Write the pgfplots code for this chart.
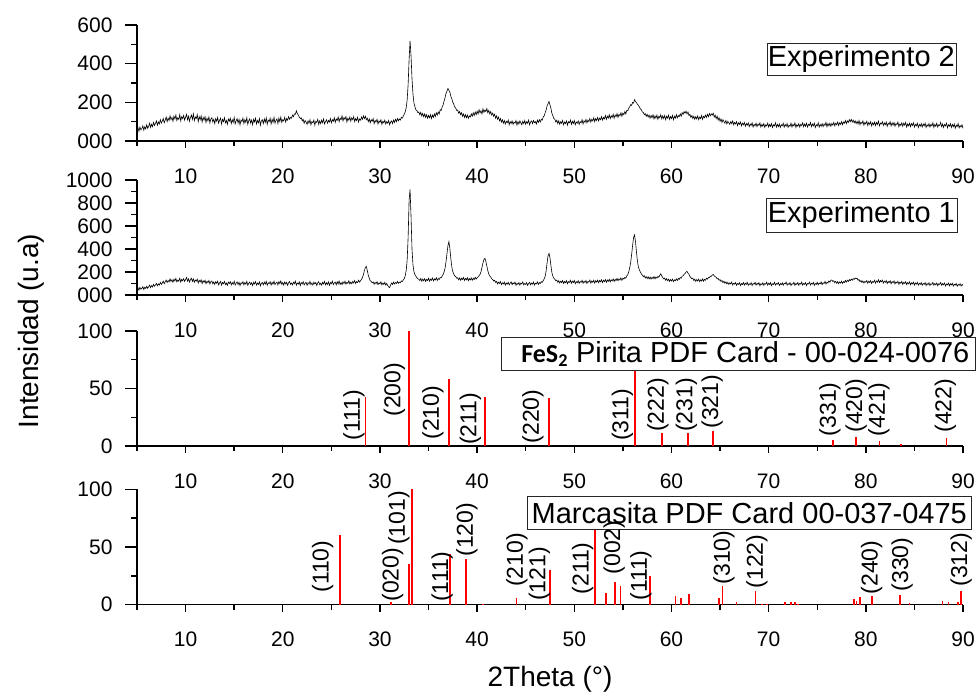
\documentclass[border=0pt]{standalone}
\usepackage{fontspec}
\setmainfont{Liberation Sans}
\newfontfamily\calib{Carlito}
\usepackage{pgfplots}
\pgfplotsset{compat=1.18}
\definecolor{stick}{RGB}{255,0,0}
\newcommand\tickfont{\fontsize{21}{21}\selectfont}
\newcommand\hklfont{\fontsize{23}{23}\selectfont}
\newcommand\boxfont{\fontsize{29}{29}\selectfont}
\newcommand\labfont{\fontsize{28}{28}\selectfont}
\pgfplotsset{
  panel/.style={
    scale only axis, width=826pt, xmin=5, xmax=90,
    axis x line=bottom, axis y line=left,
    axis line style={-, line width=1.4pt, black},
    tick align=outside, clip=false,
    xtick={10,20,30,40,50,60,70,80,90},
    xticklabels={10,20,30,40,50,60,70,80,90},
    minor xtick={5,15,25,35,45,55,65,75,85},
    xtick style={line width=1.4pt, black, /pgfplots/major tick length=7pt, /pgfplots/minor tick length=5pt},
    ytick style={line width=1.4pt, black, /pgfplots/major tick length=12pt, /pgfplots/minor tick length=6pt},
    xticklabel style={font=\tickfont, inner sep=0pt, anchor=north, yshift=-23pt},
    yticklabel style={font=\tickfont, inner sep=0pt, anchor=east, xshift=-20pt},
    /pgf/number format/assume math mode=true,
  },
}
\tikzset{
  hkl/.style={rotate=90, inner sep=0pt, font=\hklfont, anchor=center},
  lbox/.style={draw=black!85, line width=0.6pt, fill=white, inner sep=0pt, font=\boxfont},
}
\pgfplotstableread{
x y
5.0 54
5.1 68
5.2 50
5.3 72
5.4 58
5.5 64
5.6 78
5.7 56
5.8 74
5.9 62
6.0 84
6.1 66
6.2 76
6.3 92
6.4 70
6.5 86
6.6 74
6.7 96
6.8 80
6.9 90
7.0 104
7.1 82
7.2 98
7.3 88
7.4 110
7.5 92
7.6 102
7.7 116
7.8 94
7.9 108
8.0 124
8.1 100
8.2 118
8.3 106
8.4 130
8.5 110
8.6 122
8.7 102
8.8 128
8.9 114
9.0 134
9.1 106
9.2 120
9.3 112
9.4 136
9.5 104
9.6 126
9.7 116
9.8 132
9.9 108
10.0 124
10.1 138
10.2 110
10.3 128
10.4 102
10.5 122
10.6 134
10.7 112
10.8 140
10.9 106
11.0 124
11.1 116
11.2 136
11.3 100
11.4 126
11.5 110
11.6 130
11.7 98
11.8 122
11.9 108
12.0 126
12.1 96
12.2 118
12.3 104
12.4 124
12.5 94
12.6 114
12.7 120
12.8 98
12.9 112
13.0 90
13.1 116
13.2 102
13.3 122
13.4 92
13.5 108
13.6 118
13.7 88
13.8 112
13.9 100
14.0 120
14.1 94
14.2 106
14.3 86
14.4 114
14.5 102
14.6 118
14.7 90
14.8 110
14.9 96
15.0 122
15.1 88
15.2 104
15.3 116
15.4 92
15.5 112
15.6 84
15.7 108
15.8 100
15.9 118
16.0 90
16.1 110
16.2 96
16.3 120
16.4 86
16.5 104
16.6 114
16.7 92
16.8 108
16.9 84
17.0 112
17.1 98
17.2 118
17.3 88
17.4 106
17.5 94
17.6 116
17.7 82
17.8 104
17.9 110
18.0 90
18.1 114
18.2 96
18.3 120
18.4 86
18.5 108
18.6 100
18.7 118
18.8 88
18.9 112
19.0 96
19.1 122
19.2 92
19.3 106
19.4 114
19.5 90
19.6 118
19.7 100
19.8 124
19.9 96
20.0 110
20.1 104
20.2 122
20.3 98
20.4 116
20.5 108
20.6 126
20.7 112
20.8 122
20.9 118
21.0 134
21.1 126
21.2 140
21.3 138
21.4 156
21.5 142
21.6 134
21.7 124
21.8 116
21.9 120
22.0 104
22.1 112
22.2 92
22.3 106
22.4 98
22.5 86
22.6 104
22.7 92
22.8 110
22.9 84
23.0 100
23.1 94
23.2 108
23.3 82
23.4 102
23.5 96
23.6 112
23.7 86
23.8 104
23.9 90
24.0 108
24.1 94
24.2 114
24.3 88
24.4 100
24.5 110
24.6 92
24.7 106
24.8 98
24.9 116
25.0 94
25.1 110
25.2 102
25.3 120
25.4 96
25.5 114
25.6 106
25.7 124
25.8 100
25.9 118
26.0 110
26.1 130
26.2 104
26.3 122
26.4 112
26.5 126
26.6 98
26.7 118
26.8 108
26.9 124
27.0 102
27.1 120
27.2 110
27.3 126
27.4 100
27.5 116
27.6 106
27.7 122
27.8 98
27.9 114
28.0 108
28.1 124
28.2 112
28.3 130
28.4 116
28.5 128
28.6 110
28.7 118
28.8 100
28.9 114
29.0 94
29.1 110
29.2 102
29.3 116
29.4 90
29.5 106
29.6 98
29.7 112
29.8 88
29.9 104
30.0 96
30.1 110
30.2 86
30.3 102
30.4 94
30.5 108
30.6 88
30.7 100
30.8 92
30.9 106
31.0 84
31.1 98
31.2 104
31.3 90
31.4 108
31.5 96
31.6 112
31.7 100
31.8 116
31.9 104
32.0 114
32.1 108
32.2 122
32.3 118
32.4 128
32.5 138
32.6 150
32.7 172
32.8 212
32.9 292
33.0 420
33.1 518
33.2 440
33.3 322
33.4 242
33.5 196
33.6 178
33.7 160
33.8 158
33.9 146
34.0 150
34.1 136
34.2 148
34.3 130
34.4 142
34.5 126
34.6 140
34.7 122
34.8 136
34.9 118
35.0 132
35.1 120
35.2 136
35.3 116
35.4 134
35.5 122
35.6 140
35.7 126
35.8 146
35.9 134
36.0 150
36.1 140
36.2 162
36.3 158
36.4 176
36.5 186
36.6 206
36.7 224
36.8 246
36.9 258
37.0 272
37.1 262
37.2 252
37.3 230
37.4 218
37.5 200
37.6 190
37.7 176
37.8 170
37.9 158
38.0 160
38.1 144
38.2 152
38.3 136
38.4 146
38.5 128
38.6 140
38.7 122
38.8 136
38.9 120
39.0 134
39.1 118
39.2 130
39.3 124
39.4 140
39.5 128
39.6 146
39.7 132
39.8 150
39.9 136
40.0 154
40.1 140
40.2 162
40.3 146
40.4 156
40.5 140
40.6 166
40.7 148
40.8 160
40.9 152
41.0 168
41.1 146
41.2 158
41.3 140
41.4 152
41.5 134
41.6 144
41.7 128
41.8 138
41.9 118
42.0 130
42.1 112
42.2 124
42.3 104
42.4 116
42.5 98
42.6 110
42.7 92
42.8 106
42.9 88
43.0 102
43.1 94
43.2 108
43.3 84
43.4 100
43.5 90
43.6 104
43.7 86
43.8 98
43.9 92
44.0 106
44.1 82
44.2 100
44.3 88
44.4 104
44.5 94
44.6 84
44.7 102
44.8 90
44.9 106
45.0 86
45.1 100
45.2 92
45.3 108
45.4 84
45.5 98
45.6 104
45.7 90
45.8 106
45.9 94
46.0 100
46.1 88
46.2 108
46.3 96
46.4 110
46.5 98
46.6 112
46.7 108
46.8 124
46.9 130
47.0 146
47.1 160
47.2 182
47.3 192
47.4 204
47.5 186
47.6 168
47.7 142
47.8 130
47.9 116
48.0 112
48.1 98
48.2 108
48.3 90
48.4 104
48.5 86
48.6 100
48.7 92
48.8 106
48.9 84
49.0 98
49.1 90
49.2 104
49.3 82
49.4 100
49.5 94
49.6 108
49.7 86
49.8 102
49.9 90
50.0 106
50.1 84
50.2 98
50.3 92
50.4 104
50.5 86
50.6 100
50.7 94
50.8 110
50.9 88
51.0 104
51.1 96
51.2 112
51.3 94
51.4 108
51.5 100
51.6 116
51.7 98
51.8 112
51.9 104
52.0 120
52.1 100
52.2 116
52.3 106
52.4 122
52.5 104
52.6 118
52.7 110
52.8 126
52.9 108
53.0 122
53.1 114
53.2 132
53.3 112
53.4 128
53.5 118
53.6 136
53.7 116
53.8 130
53.9 122
54.0 138
54.1 118
54.2 134
54.3 126
54.4 142
54.5 122
54.6 138
54.7 130
54.8 146
54.9 128
55.0 144
55.1 136
55.2 152
55.3 140
55.4 158
55.5 156
55.6 170
55.7 176
55.8 188
55.9 184
56.0 200
56.1 196
56.2 214
56.3 204
56.4 198
56.5 190
56.6 184
56.7 176
56.8 166
56.9 162
57.0 150
57.1 148
57.2 136
57.3 142
57.4 128
57.5 138
57.6 124
57.7 134
57.8 118
57.9 132
58.0 120
58.1 136
58.2 114
58.3 130
58.4 118
58.5 134
58.6 112
58.7 128
58.8 120
58.9 136
59.0 114
59.1 130
59.2 116
59.3 132
59.4 110
59.5 128
59.6 118
59.7 134
59.8 112
59.9 126
60.0 116
60.1 132
60.2 110
60.3 128
60.4 118
60.5 136
60.6 120
60.7 132
60.8 126
60.9 140
61.0 128
61.1 146
61.2 138
61.3 152
61.4 144
61.5 154
61.6 140
61.7 150
61.8 132
61.9 138
62.0 122
62.1 132
62.2 116
62.3 128
62.4 112
62.5 126
62.6 114
62.7 130
62.8 110
62.9 124
63.0 116
63.1 132
63.2 112
63.3 128
63.4 120
63.5 134
63.6 122
63.7 138
63.8 126
63.9 142
64.0 130
64.1 140
64.2 134
64.3 144
64.4 124
64.5 134
64.6 116
64.7 128
64.8 108
64.9 120
65.0 102
65.1 114
65.2 96
65.3 110
65.4 100
65.5 92
65.6 106
65.7 88
65.8 102
65.9 94
66.0 86
66.1 100
66.2 90
66.3 104
66.4 84
66.5 96
66.6 88
66.7 100
66.8 80
66.9 94
67.0 86
67.1 98
67.2 78
67.3 92
67.4 84
67.5 96
67.6 76
67.7 90
67.8 82
67.9 94
68.0 74
68.1 88
68.2 80
68.3 94
68.4 72
68.5 86
68.6 78
68.7 92
68.8 74
68.9 88
69.0 80
69.1 94
69.2 72
69.3 86
69.4 76
69.5 90
69.6 70
69.7 84
69.8 78
69.9 92
70.0 72
70.1 86
70.2 76
70.3 90
70.4 70
70.5 84
70.6 78
70.7 94
70.8 72
70.9 86
71.0 74
71.1 88
71.2 70
71.3 84
71.4 78
71.5 92
71.6 72
71.7 86
71.8 76
71.9 90
72.0 70
72.1 82
72.2 76
72.3 92
72.4 72
72.5 86
72.6 78
72.7 94
72.8 70
72.9 84
73.0 76
73.1 90
73.2 72
73.3 86
73.4 80
73.5 94
73.6 74
73.7 88
73.8 76
73.9 92
74.0 72
74.1 86
74.2 80
74.3 96
74.4 74
74.5 88
74.6 78
74.7 92
74.8 70
74.9 84
75.0 78
75.1 94
75.2 72
75.3 86
75.4 76
75.5 90
75.6 74
75.7 88
75.8 80
75.9 96
76.0 74
76.1 90
76.2 78
76.3 92
76.4 76
76.5 90
76.6 82
76.7 96
76.8 78
76.9 92
77.0 84
77.1 98
77.2 80
77.3 94
77.4 86
77.5 100
77.6 84
77.7 98
77.8 92
77.9 106
78.0 90
78.1 104
78.2 96
78.3 110
78.4 100
78.5 112
78.6 98
78.7 108
78.8 94
78.9 104
79.0 90
79.1 102
79.2 88
79.3 106
79.4 84
79.5 98
79.6 90
79.7 104
79.8 82
79.9 96
80.0 88
80.1 102
80.2 80
80.3 96
80.4 86
80.5 100
80.6 78
80.7 94
80.8 84
80.9 98
81.0 80
81.1 96
81.2 86
81.3 102
81.4 78
81.5 92
81.6 88
81.7 100
81.8 80
81.9 94
82.0 84
82.1 98
82.2 76
82.3 92
82.4 86
82.5 100
82.6 78
82.7 94
82.8 82
82.9 96
83.0 76
83.1 90
83.2 84
83.3 98
83.4 74
83.5 88
83.6 80
83.7 94
83.8 76
83.9 92
84.0 82
84.1 96
84.2 72
84.3 88
84.4 78
84.5 92
84.6 74
84.7 90
84.8 80
84.9 94
85.0 72
85.1 86
85.2 78
85.3 92
85.4 70
85.5 86
85.6 76
85.7 90
85.8 72
85.9 88
86.0 78
86.1 92
86.2 70
86.3 84
86.4 76
86.5 90
86.6 72
86.7 86
86.8 78
86.9 94
87.0 70
87.1 86
87.2 76
87.3 92
87.4 72
87.5 84
87.6 80
87.7 96
87.8 74
87.9 88
88.0 70
88.1 86
88.2 78
88.3 92
88.4 68
88.5 84
88.6 76
88.7 90
88.8 70
88.9 86
89.0 74
89.1 88
89.2 66
89.3 82
89.4 74
89.5 90
89.6 68
89.7 80
89.8 72
89.9 84
90.0 66
}\expB
\pgfplotstableread{
x y
5.0 46
5.1 62
5.2 42
5.3 66
5.4 50
5.5 58
5.6 72
5.7 48
5.8 68
5.9 56
6.0 76
6.1 58
6.2 72
6.3 86
6.4 64
6.5 82
6.6 70
6.7 92
6.8 76
6.9 88
7.0 100
7.1 80
7.2 96
7.3 86
7.4 110
7.5 92
7.6 104
7.7 120
7.8 98
7.9 114
8.0 130
8.1 108
8.2 126
8.3 114
8.4 140
8.5 118
8.6 132
8.7 110
8.8 138
8.9 122
9.0 144
9.1 114
9.2 130
9.3 120
9.4 146
9.5 112
9.6 136
9.7 124
9.8 142
9.9 118
10.0 134
10.1 152
10.2 120
10.3 140
10.4 112
10.5 134
10.6 146
10.7 118
10.8 140
10.9 110
11.0 130
11.1 120
11.2 138
11.3 104
11.4 128
11.5 114
11.6 132
11.7 100
11.8 124
11.9 110
12.0 128
12.1 98
12.2 120
12.3 106
12.4 126
12.5 96
12.6 116
12.7 122
12.8 98
12.9 114
13.0 92
13.1 116
13.2 102
13.3 120
13.4 88
13.5 106
13.6 118
13.7 86
13.8 110
13.9 98
14.0 118
14.1 90
14.2 104
14.3 84
14.4 112
14.5 100
14.6 116
14.7 88
14.8 108
14.9 94
15.0 120
15.1 86
15.2 102
15.3 114
15.4 90
15.5 110
15.6 82
15.7 106
15.8 98
15.9 116
16.0 88
16.1 108
16.2 94
16.3 118
16.4 84
16.5 102
16.6 112
16.7 90
16.8 106
16.9 82
17.0 110
17.1 96
17.2 116
17.3 86
17.4 104
17.5 92
17.6 114
17.7 80
17.8 102
17.9 108
18.0 88
18.1 112
18.2 94
18.3 118
18.4 84
18.5 106
18.6 98
18.7 116
18.8 86
18.9 110
19.0 94
19.1 120
19.2 90
19.3 104
19.4 112
19.5 88
19.6 116
19.7 98
19.8 122
19.9 92
20.0 108
20.1 86
20.2 114
20.3 96
20.4 110
20.5 84
20.6 106
20.7 118
20.8 92
20.9 104
21.0 88
21.1 112
21.2 98
21.3 120
21.4 86
21.5 104
21.6 94
21.7 114
21.8 82
21.9 108
22.0 96
22.1 116
22.2 88
22.3 102
22.4 110
22.5 84
22.6 106
22.7 94
22.8 118
22.9 90
23.0 104
23.1 86
23.2 112
23.3 96
23.4 108
23.5 82
23.6 104
23.7 116
23.8 90
23.9 102
24.0 86
24.1 110
24.2 96
24.3 118
24.4 88
24.5 106
24.6 92
24.7 114
24.8 84
24.9 108
25.0 98
25.1 120
25.2 90
25.3 104
25.4 112
25.5 88
25.6 116
25.7 96
25.8 122
25.9 92
26.0 108
26.1 90
26.2 114
26.3 100
26.4 120
26.5 94
26.6 110
26.7 102
26.8 124
26.9 96
27.0 112
27.1 98
27.2 118
27.3 104
27.4 126
27.5 100
27.6 116
27.7 108
27.8 128
27.9 112
28.0 124
28.1 136
28.2 152
28.3 176
28.4 212
28.5 238
28.6 248
28.7 212
28.8 172
28.9 146
29.0 124
29.1 118
29.2 106
29.3 114
29.4 94
29.5 110
29.6 98
29.7 116
29.8 90
29.9 106
30.0 96
30.1 114
30.2 88
30.3 104
30.4 92
30.5 110
30.6 86
30.7 100
30.8 82
30.9 70
31.0 64
31.1 88
31.2 104
31.3 92
31.4 112
31.5 96
31.6 108
31.7 100
31.8 118
31.9 102
32.0 112
32.1 106
32.2 122
32.3 116
32.4 130
32.5 142
32.6 166
32.7 212
32.8 302
32.9 500
33.0 820
33.1 919
33.2 680
33.3 400
33.4 262
33.5 202
33.6 176
33.7 164
33.8 150
33.9 142
34.0 136
34.1 126
34.2 144
34.3 120
34.4 138
34.5 124
34.6 142
34.7 118
34.8 136
34.9 126
35.0 146
35.1 120
35.2 138
35.3 128
35.4 148
35.5 122
35.6 140
35.7 130
35.8 150
35.9 126
36.0 144
36.1 134
36.2 152
36.3 150
36.4 164
36.5 178
36.6 200
36.7 232
36.8 290
36.9 362
37.0 430
37.1 464
37.2 402
37.3 312
37.4 242
37.5 202
37.6 182
37.7 166
37.8 160
37.9 146
38.0 150
38.1 132
38.2 148
38.3 128
38.4 146
38.5 134
38.6 152
38.7 126
38.8 144
38.9 132
39.0 150
39.1 124
39.2 142
39.3 130
39.4 148
39.5 128
39.6 146
39.7 134
39.8 154
39.9 138
40.0 150
40.1 156
40.2 168
40.3 180
40.4 202
40.5 240
40.6 278
40.7 308
40.8 319
40.9 292
41.0 252
41.1 212
41.2 182
41.3 166
41.4 156
41.5 142
41.6 134
41.7 122
41.8 128
41.9 110
42.0 118
42.1 96
42.2 112
42.3 100
42.4 116
42.5 90
42.6 106
42.7 96
42.8 112
42.9 86
43.0 104
43.1 94
43.2 110
43.3 88
43.4 102
43.5 114
43.6 90
43.7 106
43.8 96
43.9 112
44.0 84
44.1 102
44.2 92
44.3 108
44.4 86
44.5 104
44.6 96
44.7 114
44.8 88
44.9 100
45.0 92
45.1 108
45.2 84
45.3 100
45.4 110
45.5 88
45.6 104
45.7 94
45.8 112
45.9 86
46.0 102
46.1 96
46.2 114
46.3 92
46.4 108
46.5 100
46.6 116
46.7 110
46.8 124
46.9 140
47.0 162
47.1 210
47.2 280
47.3 340
47.4 362
47.5 322
47.6 252
47.7 192
47.8 162
47.9 146
48.0 136
48.1 124
48.2 130
48.3 110
48.4 124
48.5 104
48.6 120
48.7 108
48.8 126
48.9 100
49.0 118
49.1 106
49.2 124
49.3 98
49.4 116
49.5 110
49.6 128
49.7 102
49.8 120
49.9 108
50.0 126
50.1 98
50.2 116
50.3 106
50.4 124
50.5 100
50.6 118
50.7 110
50.8 128
50.9 102
51.0 120
51.1 108
51.2 126
51.3 100
51.4 118
51.5 112
51.6 130
51.7 104
51.8 122
51.9 110
52.0 128
52.1 104
52.2 124
52.3 112
52.4 130
52.5 106
52.6 126
52.7 114
52.8 132
52.9 108
53.0 128
53.1 116
53.2 134
53.3 110
53.4 130
53.5 118
53.6 136
53.7 114
53.8 132
53.9 122
54.0 140
54.1 118
54.2 136
54.3 126
54.4 144
54.5 124
54.6 140
54.7 130
54.8 148
54.9 128
55.0 146
55.1 138
55.2 154
55.3 146
55.4 166
55.5 176
55.6 200
55.7 236
55.8 280
55.9 352
56.0 430
56.1 500
56.2 522
56.3 462
56.4 372
56.5 292
56.6 242
56.7 218
56.8 200
56.9 184
57.0 172
57.1 160
57.2 168
57.3 148
57.4 160
57.5 142
57.6 158
57.7 140
57.8 156
57.9 138
58.0 154
58.1 142
58.2 160
58.3 140
58.4 156
58.5 146
58.6 162
58.7 154
58.8 172
58.9 184
59.0 166
59.1 152
59.2 140
59.3 146
59.4 128
59.5 142
59.6 124
59.7 138
59.8 118
59.9 134
60.0 122
60.1 138
60.2 116
60.3 132
60.4 124
60.5 140
60.6 126
60.7 144
60.8 136
60.9 152
61.0 146
61.1 164
61.2 166
61.3 180
61.4 188
61.5 198
61.6 206
61.7 190
61.8 180
61.9 160
62.0 152
62.1 140
62.2 146
62.3 126
62.4 138
62.5 118
62.6 134
62.7 122
62.8 138
62.9 116
63.0 132
63.1 122
63.2 140
63.3 120
63.4 136
63.5 128
63.6 146
63.7 138
63.8 152
63.9 150
64.0 164
64.1 162
64.2 174
64.3 178
64.4 166
64.5 160
64.6 154
64.7 140
64.8 144
64.9 128
65.0 134
65.1 118
65.2 126
65.3 108
65.4 120
65.5 102
65.6 114
65.7 96
65.8 110
65.9 92
66.0 106
66.1 96
66.2 112
66.3 86
66.4 102
66.5 94
66.6 108
66.7 84
66.8 100
66.9 92
67.0 106
67.1 82
67.2 100
67.3 90
67.4 108
67.5 86
67.6 102
67.7 92
67.8 110
67.9 84
68.0 98
68.1 90
68.2 106
68.3 82
68.4 100
68.5 94
68.6 110
68.7 86
68.8 102
68.9 92
69.0 108
69.1 80
69.2 98
69.3 90
69.4 106
69.5 84
69.6 100
69.7 94
69.8 112
69.9 86
70.0 102
70.1 90
70.2 108
70.3 82
70.4 98
70.5 92
70.6 110
70.7 86
70.8 100
70.9 94
71.0 108
71.1 82
71.2 98
71.3 90
71.4 106
71.5 84
71.6 102
71.7 96
71.8 112
71.9 86
72.0 100
72.1 90
72.2 108
72.3 82
72.4 98
72.5 94
72.6 110
72.7 84
72.8 100
72.9 92
73.0 108
73.1 84
73.2 102
73.3 94
73.4 112
73.5 86
73.6 100
73.7 92
73.8 108
73.9 82
74.0 100
74.1 96
74.2 112
74.3 86
74.4 102
74.5 94
74.6 110
74.7 84
74.8 100
74.9 92
75.0 110
75.1 88
75.2 104
75.3 96
75.4 114
75.5 90
75.6 106
75.7 100
75.8 118
75.9 96
76.0 110
76.1 104
76.2 122
76.3 112
76.4 128
76.5 130
76.6 118
76.7 124
76.8 108
76.9 118
77.0 102
77.1 116
77.2 98
77.3 114
77.4 104
77.5 120
77.6 100
77.7 116
77.8 108
77.9 126
78.0 112
78.1 128
78.2 118
78.3 134
78.4 124
78.5 138
78.6 128
78.7 142
78.8 136
78.9 148
79.0 142
79.1 146
79.2 128
79.3 134
79.4 116
79.5 126
79.6 108
79.7 122
79.8 104
79.9 118
80.0 110
80.1 126
80.2 102
80.3 120
80.4 108
80.5 124
80.6 100
80.7 118
80.8 110
80.9 128
81.0 104
81.1 122
81.2 112
81.3 132
81.4 108
81.5 126
81.6 114
81.7 130
81.8 104
81.9 120
82.0 110
82.1 126
82.2 100
82.3 118
82.4 108
82.5 124
82.6 98
82.7 116
82.8 106
82.9 122
83.0 96
83.1 114
83.2 104
83.3 120
83.4 94
83.5 112
83.6 102
83.7 118
83.8 92
83.9 110
84.0 100
84.1 116
84.2 90
84.3 108
84.4 98
84.5 114
84.6 88
84.7 106
84.8 96
84.9 112
85.0 86
85.1 104
85.2 94
85.3 110
85.4 86
85.5 102
85.6 92
85.7 108
85.8 84
85.9 100
86.0 92
86.1 108
86.2 82
86.3 100
86.4 90
86.5 106
86.6 82
86.7 98
86.8 92
86.9 110
87.0 84
87.1 100
87.2 88
87.3 104
87.4 80
87.5 98
87.6 92
87.7 108
87.8 84
87.9 100
88.0 88
88.1 104
88.2 78
88.3 96
88.4 88
88.5 104
88.6 80
88.7 98
88.8 86
88.9 102
89.0 78
89.1 94
89.2 86
89.3 100
89.4 76
89.5 92
89.6 84
89.7 98
89.8 78
89.9 92
90.0 84
}\expA
\begin{document}
\begin{tikzpicture}[x=1pt,y=1pt]
\path[use as bounding box] (0,0) rectangle (979,692);

% ---------------- Panel 1: Experimento 2
\begin{axis}[panel, at={(137pt,551pt)}, anchor=south west, height=116pt,
  ymin=0, ymax=600, ytick={0,200,400,600}, yticklabels={000,200,400,600},
  minor ytick={100,300,500}]
\addplot[black, line width=0.6pt] table[x=x, y=y] {\expB};
\node[lbox, minimum width=189pt, minimum height=32.3pt] at (axis cs:79.54,424) {Experimento 2};
\end{axis}

% ---------------- Panel 2: Experimento 1
\begin{axis}[panel, at={(137pt,397pt)}, anchor=south west, height=115pt,
  ymin=0, ymax=1000, ytick={0,200,400,600,800,1000}, yticklabels={000,200,400,600,800,1000},
  minor ytick={100,300,500,700,900}]
\addplot[black, line width=0.6pt] table[x=x, y=y] {\expA};
\node[lbox, minimum width=191pt, minimum height=34.4pt] at (axis cs:79.54,692) {Experimento 1};
\end{axis}

% ---------------- Panel 3: Pirita
\begin{axis}[panel, at={(137pt,246pt)}, anchor=south west, height=115pt,
  ymin=0, ymax=100, ytick={0,50,100}, yticklabels={0,50,100},
  minor ytick={25,75}]
\addplot[stick, ycomb, line width=1.8pt] coordinates {
(28.51,43) (33.02,100) (37.08,58) (40.78,43) (47.42,42) (56.28,65)
(59.02,11) (61.70,11) (64.28,13) (76.60,5) (78.98,7.5) (81.40,4)
(83.66,1.5) (88.30,7)};
\node[lbox, minimum width=474pt, minimum height=33pt] at (axis cs:66.83,79.9) {\hspace{15pt}{\calib\bfseries\fontsize{26}{26}\selectfont FeS\textsubscript{2}} Pirita PDF Card - 00-024-0076};
\node[hkl] at (axis cs:27.33,27) {(111)};
\node[hkl] at (axis cs:31.5,49) {(200)};
\node[hkl] at (axis cs:35.45,29) {(210)};
\node[hkl] at (axis cs:39.3,23.5) {(211)};
\node[hkl] at (axis cs:45.75,25.6) {(220)};
\node[hkl] at (axis cs:54.95,27) {(311)};
\node[hkl] at (axis cs:58.6,35.6) {(222)};
\node[hkl] at (axis cs:61.55,35.6) {(231)};
\node[hkl] at (axis cs:64.2,38.5) {(321)};
\node[hkl] at (axis cs:76.3,32) {(331)};
\node[hkl] at (axis cs:79.0,35) {(420)};
\node[hkl] at (axis cs:81.35,32) {(421)};
\node[hkl] at (axis cs:88.2,35) {(422)};
\end{axis}

% ---------------- Panel 4: Marcasita
\begin{axis}[panel, at={(137pt,87.3pt)}, anchor=south west, height=115.4pt,
  ymin=0, ymax=100, ytick={0,50,100}, yticklabels={0,50,100},
  minor ytick={25,75}]
\addplot[stick, ycomb, line width=1.8pt] coordinates {
(25.90,60) (31.10,2.4) (33.00,35) (33.30,100) (37.20,43.6) (38.85,40)
(40.60,1) (44.06,5.5) (47.50,30) (52.10,65.6) (53.25,10) (54.20,20)
(54.75,16) (57.80,25) (60.42,7.5) (60.97,6) (61.80,9) (64.90,6)
(65.26,16) (66.70,2.5) (68.65,12) (69.30,1) (69.80,1) (71.67,2.5)
(72.30,2) (72.70,2) (73.00,1) (78.80,5) (79.04,3) (79.38,7)
(80.65,7.5) (83.50,8.4) (84.50,1.5) (87.90,3) (88.50,2) (89.50,2)
(89.80,12)};
\node[lbox, minimum width=444.4pt, minimum height=33.3pt] at (axis cs:68.01,79.7) {Marcasita PDF Card 00-037-0475};
\node[hkl] at (axis cs:24.1,33) {(110)};
\node[hkl] at (axis cs:31.3,26) {(020)};
\node[hkl] at (axis cs:31.95,75) {(101)};
\node[hkl] at (axis cs:36.4,24.4) {(111)};
\node[hkl] at (axis cs:38.95,65) {(120)};
\node[hkl] at (axis cs:44.1,38.7) {(210)};
\node[hkl] at (axis cs:46.4,26.6) {(121)};
\node[hkl] at (axis cs:50.85,31.5) {(211)};
\node[hkl] at (axis cs:54.1,49.6) {(002)};
\node[hkl] at (axis cs:56.85,25.3) {(111)};
\node[hkl] at (axis cs:65.4,40.9) {(310)};
\node[hkl] at (axis cs:68.8,37.4) {(122)};
\node[hkl] at (axis cs:80.6,32.2) {(240)};
\node[hkl] at (axis cs:83.75,34.8) {(330)};
\node[hkl] at (axis cs:89.8,39) {(312)};
\end{axis}

\node[rotate=90, anchor=base, font=\labfont, inner sep=0pt] at (38,361) {Intensidad (u.a)};
\node[anchor=base, font=\labfont, inner sep=0pt] at (550,5) {2Theta (°)};
\end{tikzpicture}
\end{document}
